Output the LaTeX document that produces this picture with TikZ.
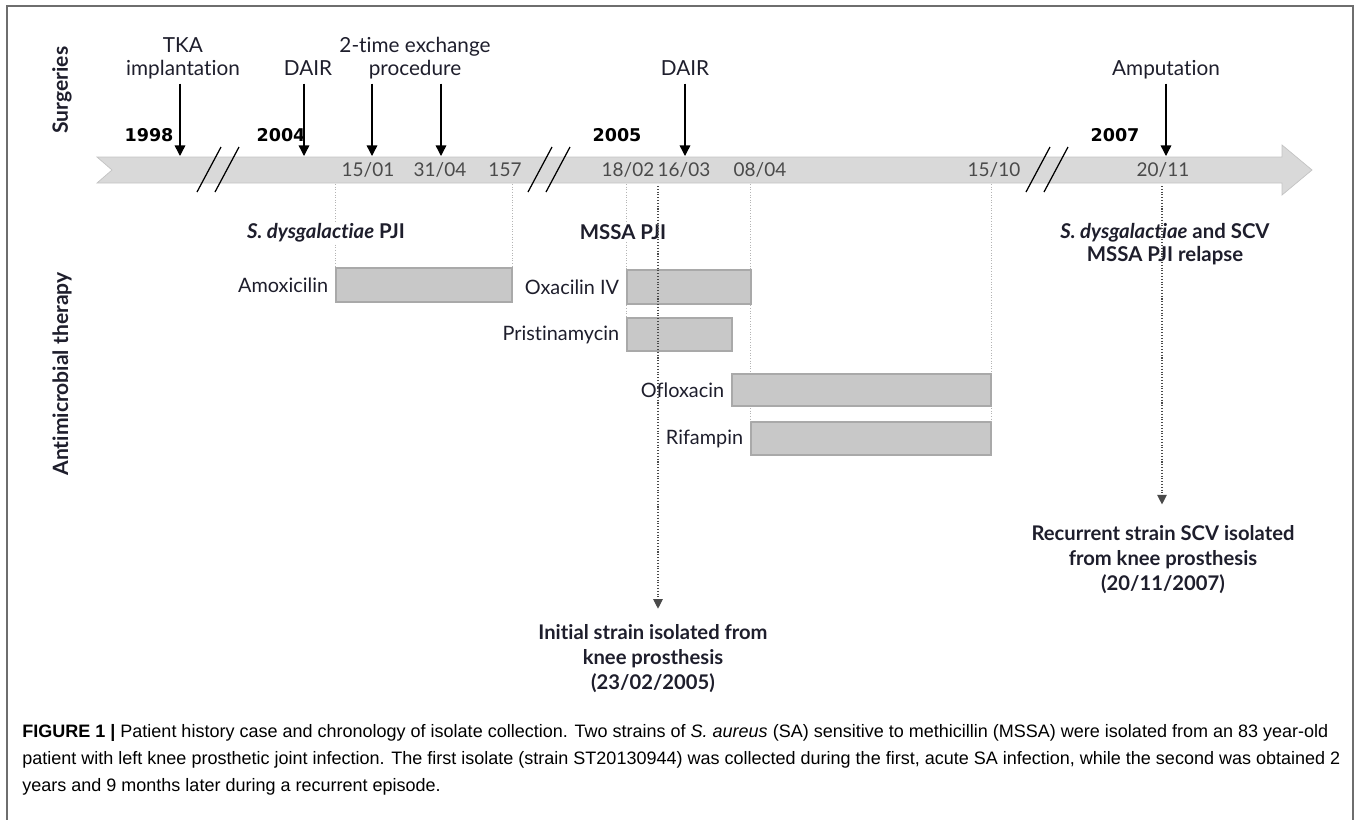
\documentclass[tikz,border=0pt]{standalone}
\usepackage{fontspec}
\setmainfont{Lato}[Ligatures=NoCommon]
\newfontfamily\yrfont{DejaVu Sans}
\newfontfamily\capfont{Liberation Sans}
\usetikzlibrary{arrows.meta,positioning,fit}
\definecolor{ink}{HTML}{1E1E2C}
\definecolor{bandgray}{HTML}{D9D9D9}
\definecolor{bargray}{HTML}{C8C8C8}
\definecolor{baredge}{HTML}{A9A9A9}
\definecolor{guidegray}{HTML}{B4B4B4}
\definecolor{dategray}{HTML}{4A4A4A}
\definecolor{framegray}{HTML}{6E6E6E}

\begin{document}
\begin{tikzpicture}[x=0.02cm,y=-0.02cm,text=ink,
  srg/.style={font=\fontsize{11.8}{13}\selectfont,align=center,anchor=south,inner sep=0pt,text depth=0.25em},
  yr/.style={font=\yrfont\bfseries\fontsize{10}{11}\selectfont,text=black},
  dt/.style={font=\fontsize{10.8}{12}\selectfont,text=dategray,inner sep=1pt},
  side/.style={font=\bfseries\fontsize{12}{13}\selectfont,rotate=90},
  pji/.style={font=\bfseries\fontsize{11.6}{13}\selectfont,fill=white,inner sep=1pt,align=center},
  drug/.style={font=\fontsize{11.3}{13}\selectfont,inner sep=1pt},
  bar/.style={draw=baredge,fill=bargray,line width=0.6pt,inner sep=0pt},
  guide/.style={draw=guidegray,line width=0.5pt,densely dotted},
  sarr/.style={draw=black,line width=0.8pt,-{Triangle[length=6pt,width=6pt]},shorten <=2pt},
  strain/.style={draw=dategray,line width=0.6pt,densely dotted,-{Triangle[length=5.5pt,width=5.5pt]}},
  res/.style={font=\bfseries\fontsize{11.5}{14}\selectfont,align=center,anchor=north,inner sep=2pt},
  figcap/.style={font=\capfont\fontsize{10.25}{15.5}\selectfont,text=black,align=left,anchor=north west,inner sep=0pt}]
  \useasboundingbox (0,0) rectangle (1357,819);
  % frame
  \draw[framegray,line width=0.7pt] (7,830) -- (7,6) -- (1353,6) -- (1353,830);
  % side titles
  \node[side] (tsrg) at (62,90) {Surgeries};
  \node[side] (tamt) at (62,374) {Antimicrobial therapy};
  % time band
  \fill[bandgray,draw=bandgray!90!black,line width=0.4pt]
    (97,157) -- (1282,157) -- (1282,145) -- (1312,170) -- (1282,195) -- (1282,183) -- (97,183) -- (112,170) -- cycle;
  \coordinate (btop) at (0,156);
  \coordinate (bbot) at (0,184);
  \foreach \b in {197,528,1026} {
    \draw[black,line width=0.7pt] (\b,192) -- (\b+24,147);
    \draw[black,line width=0.7pt] (\b+18,192) -- (\b+42,147);
  }
  % years
  \foreach \x/\y in {149/1998,281/2004,617/2005,1115/2007}
    \node[yr] (y\y) at (\x,135) {\y};
  % dates
  \foreach \x/\d/\m in {368/15/01,440/31/04,628/18/02,684/16/03,760/08/04,994/15/10,1163/20/11}
    \node[dt] (d\d\m) at (\x,170) {\d/\m};
  \node[dt] (d157) at (505,170) {157};
  % surgeries
  \node[srg] (tka) at (183,80) {TKA\\implantation};
  \node[srg] (dairA) at (308,80) {DAIR};
  \node[srg] (exch) at (415,80) {2-time exchange\\procedure};
  \node[srg] (dairB) at (685,80) {DAIR};
  \node[srg] (ampu) at (1166,80) {Amputation};
  \coordinate (sTka) at (180,156);
  \coordinate (sDairA) at (304,156);
  \coordinate (sExA) at (372,156);
  \coordinate (sExB) at (441,156);
  \coordinate (sDairB) at (685,156);
  \coordinate (sAmpu) at (1166,156);
  \draw[sarr] (tka.south -| sTka) -- (sTka);
  \draw[sarr] (dairA.south -| sDairA) -- (sDairA);
  \draw[sarr] (exch.south -| sExA) -- (sExA);
  \draw[sarr] (exch.south -| sExB) -- (sExB);
  \draw[sarr] (dairB.south -| sDairB) -- (sDairB);
  \draw[sarr] (ampu.south -| sAmpu) -- (sAmpu);
  % therapy bars
  \node[bar,fit={(336,268) (512,302)}] (amx) {};
  \node[bar,fit={(627,270) (751,304)}] (oxa) {};
  \node[bar,fit={(627,318) (732,351)}] (pri) {};
  \node[bar,fit={(732,374) (991,406)}] (ofl) {};
  \node[bar,fit={(751,422) (991,455)}] (rif) {};
  \draw[guide] (amx.north west |- bbot) -- (amx.north west);
  \draw[guide] (amx.north east |- bbot) -- (amx.north east);
  \draw[guide] (pri.north west |- bbot) -- (pri.north west);
  \draw[guide] (rif.north west |- bbot) -- (rif.north west);
  \draw[guide] (rif.north east |- bbot) -- (rif.north east);
  \node[bar,fit={(336,268) (512,302)}] {};
  \node[bar,fit={(627,270) (751,304)}] {};
  \node[bar,fit={(627,318) (732,351)}] {};
  \node[bar,fit={(732,374) (991,406)}] {};
  \node[drug,left=3pt of amx] (lAmx) {Amoxicilin};
  \node[drug,left=3pt of oxa] (lOxa) {Oxacilin IV};
  \node[drug,left=3pt of pri] (lPri) {Pristinamycin};
  \node[drug,left=3pt of ofl] (lOfl) {Ofloxacin};
  \node[drug,left=3pt of rif] (lRif) {Rifampin};
  % infections
  \node[pji] (pjiA) at (326,233) {\textit{S. dysgalactiae} PJI};
  \node[pji] (pjiB) at (623,232) {MSSA PJI};
  \node[pji] (pjiC) at (1165,244) {\textit{S. dysgalactiae} and SCV\\MSSA PJI relapse};
  % isolates
  \node[res] (init) at (653,621) {Initial strain isolated from\\knee prosthesis\\(23/02/2005)};
  \node[res] (recur) at (1163,522) {Recurrent strain SCV isolated\\from knee prosthesis\\(20/11/2007)};
  \coordinate (iA) at (658,186);
  \coordinate (iB) at (1162,186);
  \draw[strain,shorten >=7pt] (iA) -- (init.north -| iA);
  \draw[strain,shorten >=10pt] (iB) -- (recur.north -| iB);
  % caption
  \node[figcap] (capt) at (22,724) {\textbf{FIGURE 1 |} Patient history case and chronology of isolate collection. Two strains of \textit{S. aureus} (SA) sensitive to methicillin (MSSA) were isolated from an 83 year-old\\
  patient with left knee prosthetic joint infection. The first isolate (strain ST20130944) was collected during the first, acute SA infection, while the second was obtained 2\\
  years and 9 months later during a recurrent episode.};
\end{tikzpicture}
\end{document}
